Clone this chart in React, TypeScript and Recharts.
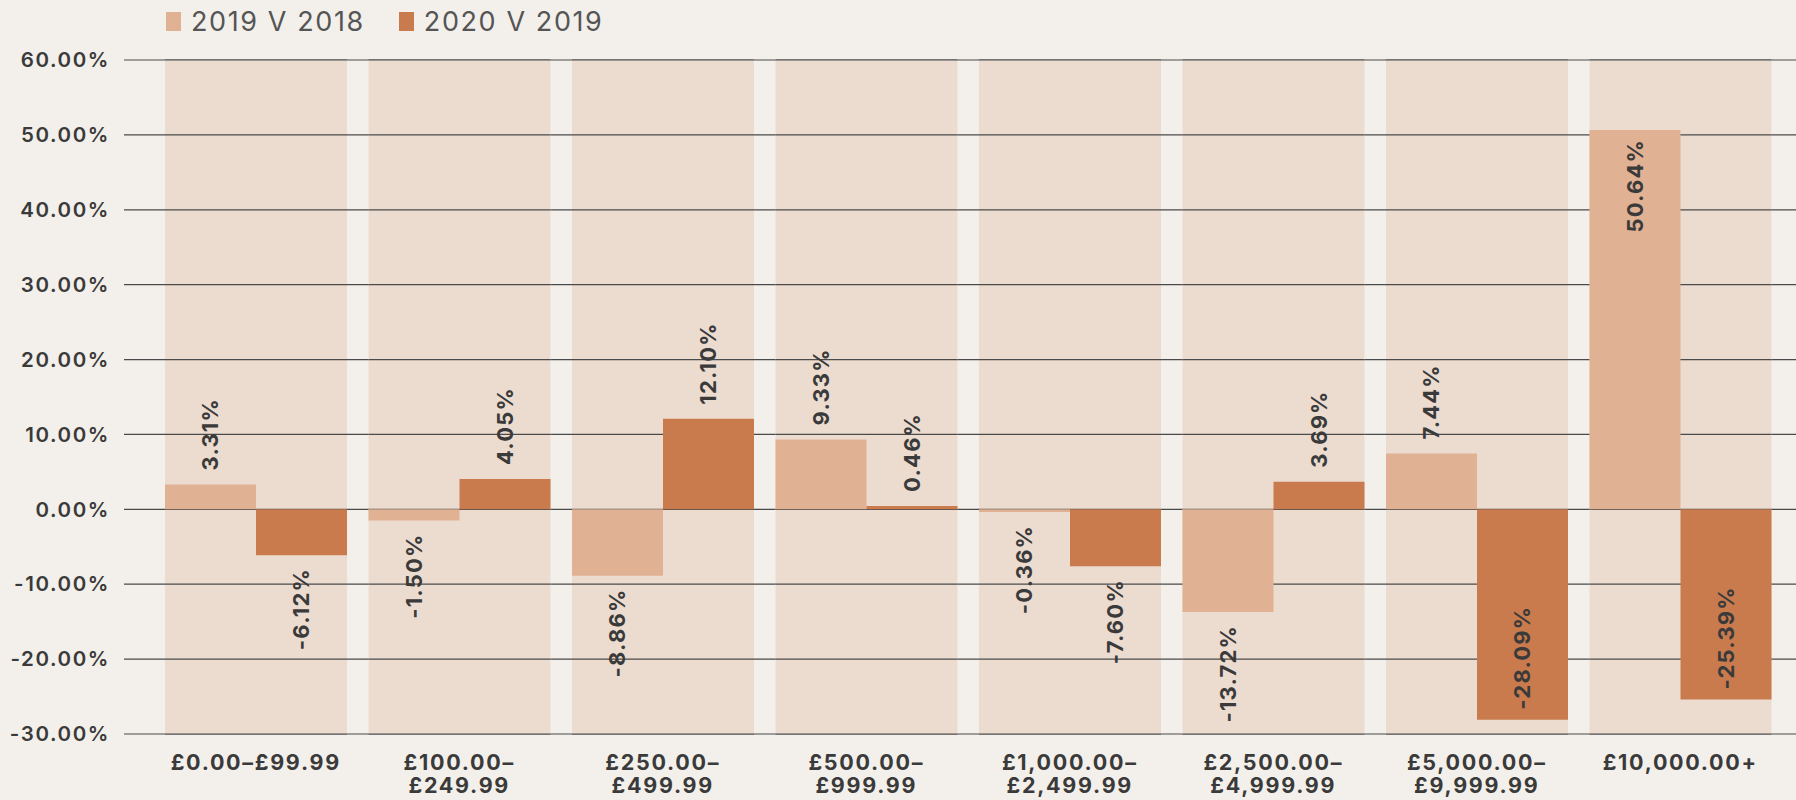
import React from "react";
import { ComposedChart, Bar, XAxis, YAxis, CartesianGrid, LabelList } from "recharts";

const categories = [
  "£0.00–£99.99",
  "£100.00–|£249.99",
  "£250.00–|£499.99",
  "£500.00–|£999.99",
  "£1,000.00–|£2,499.99",
  "£2,500.00–|£4,999.99",
  "£5,000.00–|£9,999.99",
  "£10,000.00+",
];
const series1Name = "2019 V 2018";
const series2Name = "2020 V 2019";
const series1 = [3.31, -1.5, -8.86, 9.33, -0.36, -13.72, 7.44, 50.64];
const series2 = [-6.12, 4.05, 12.1, 0.46, -7.6, 3.69, -28.09, -25.39];
const yTicks = [-30, -20, -10, 0, 10, 20, 30, 40, 50, 60];

const data = categories.map((c, i) => ({ cat: c, a: series1[i], b: series2[i] }));

const Y_MIN = yTicks[0];
const Y_MAX = yTicks[yTicks.length - 1];

const COL_BG = "#ecdcd0";
const PAGE_BG = "#f3f0eb";
const C1 = "#e1b193";
const C2 = "#c97b4e";
const TXT = "#3a3a3a";
const GRID = "#4a4a4a";
const FONT = "Inter, 'Noto Sans', sans-serif";

const PLOT_TOP = 60;
const PLOT_BOTTOM = 734;
const LABEL_FS = 22;
const LABEL_LS = 1.2;

const fmt = (v: number) => `${v.toFixed(2)}%`;

// Column background that also carries the grid lines across it,
// so the grid sits above the column but below the bars.
const ColumnBackground = (props: any) => {
  const { x, y, width, height } = props;
  if (x === undefined) return null;
  return (
    <g>
      <rect x={x} y={y} width={width} height={height} fill={COL_BG} />
      {yTicks.map((t) => {
        const ty = y + (height * (Y_MAX - t)) / (Y_MAX - Y_MIN);
        return (
          <line key={t} x1={x} x2={x + width} y1={ty} y2={ty} stroke={GRID} strokeWidth={1.2} />
        );
      })}
    </g>
  );
};

const ValueLabel = (props: any) => {
  const { x, y, width, height, value } = props;
  if (value === undefined || value === null) return null;
  const v = Number(value);
  const top = Math.min(y, y + height);
  const bottom = Math.max(y, y + height);
  const cx = x + width / 2;
  const text = fmt(v);
  const est = text.length * 14.5;
  const outGap = 14;
  const inGap = 10;
  let ty: number;
  let anchor: "start" | "end";
  if (v >= 0) {
    if (top - outGap - est < PLOT_TOP) {
      ty = top + inGap - LABEL_LS;
      anchor = "end";
    } else {
      ty = top - outGap;
      anchor = "start";
    }
  } else {
    if (bottom + outGap + est > PLOT_BOTTOM) {
      ty = bottom - inGap;
      anchor = "start";
    } else {
      ty = bottom + outGap - LABEL_LS;
      anchor = "end";
    }
  }
  return (
    <text
      x={cx}
      y={ty}
      transform={`rotate(-90 ${cx} ${ty})`}
      textAnchor={anchor}
      dominantBaseline="central"
      fill={TXT}
      fontFamily={FONT}
      fontWeight={700}
      fontSize={LABEL_FS}
      letterSpacing={LABEL_LS}
    >
      {text}
    </text>
  );
};

const XTick = (props: any) => {
  const { x, y, payload } = props;
  const lines = String(payload.value).split("|");
  return (
    <text
      x={x}
      y={y + 36}
      textAnchor="middle"
      fill={TXT}
      fontFamily={FONT}
      fontWeight={700}
      fontSize={21.5}
      letterSpacing={1.7}
    >
      {lines.map((l, i) => (
        <tspan key={i} x={x} dy={i === 0 ? 0 : 23}>
          {l}
        </tspan>
      ))}
    </text>
  );
};

const Legend = () => (
  <div
    style={{
      position: "absolute",
      left: 166,
      top: 5,
      display: "flex",
      alignItems: "center",
      fontFamily: FONT,
      fontSize: 27,
      color: "#555",
      letterSpacing: 1.6,
    }}
  >
    {[
      { n: series1Name, c: C1 },
      { n: series2Name, c: C2 },
    ].map((it, i) => (
      <div key={i} style={{ display: "flex", alignItems: "center", marginRight: 34 }}>
        <div style={{ width: 15, height: 19, background: it.c, marginRight: 10 }} />
        <span>{it.n}</span>
      </div>
    ))}
  </div>
);

export default function App() {
  return (
    <div
      style={{
        position: "absolute",
        left: 0,
        top: 0,
        width: 1796,
        height: 800,
        background: PAGE_BG,
        overflow: "hidden",
      }}
    >
      <Legend />
      <ComposedChart
        width={1796}
        height={800}
        data={data}
        margin={{ top: PLOT_TOP, right: 0, left: 0, bottom: 0 }}
        barGap={0}
      >
        <CartesianGrid vertical={false} stroke={GRID} strokeWidth={1.2} strokeOpacity={1} />
        <XAxis
          dataKey="cat"
          interval={0}
          axisLine={false}
          tickLine={false}
          tickSize={0}
          tickMargin={0}
          height={66}
          padding={{ left: 30, right: 14 }}
          tick={<XTick />}
        />
        <XAxis xAxisId="bg" dataKey="cat" hide padding={{ left: 30, right: 14 }} />
        <YAxis
          domain={[Y_MIN, Y_MAX]}
          ticks={yTicks}
          interval={0}
          axisLine={false}
          tickLine={false}
          tickSize={0}
          tickMargin={14}
          width={124}
          tickFormatter={fmt}
          tick={{ fill: TXT, fontFamily: FONT, fontWeight: 600, fontSize: 20.5, letterSpacing: 1.6 }}
        />
        <Bar
          xAxisId="bg"
          dataKey="a"
          fill="transparent"
          barSize={182}
          background={<ColumnBackground />}
          isAnimationActive={false}
          legendType="none"
        />
        <Bar dataKey="a" name={series1Name} fill={C1} barSize={91} isAnimationActive={false}>
          <LabelList dataKey="a" content={<ValueLabel />} />
        </Bar>
        <Bar dataKey="b" name={series2Name} fill={C2} barSize={91} isAnimationActive={false}>
          <LabelList dataKey="b" content={<ValueLabel />} />
        </Bar>
      </ComposedChart>
    </div>
  );
}
